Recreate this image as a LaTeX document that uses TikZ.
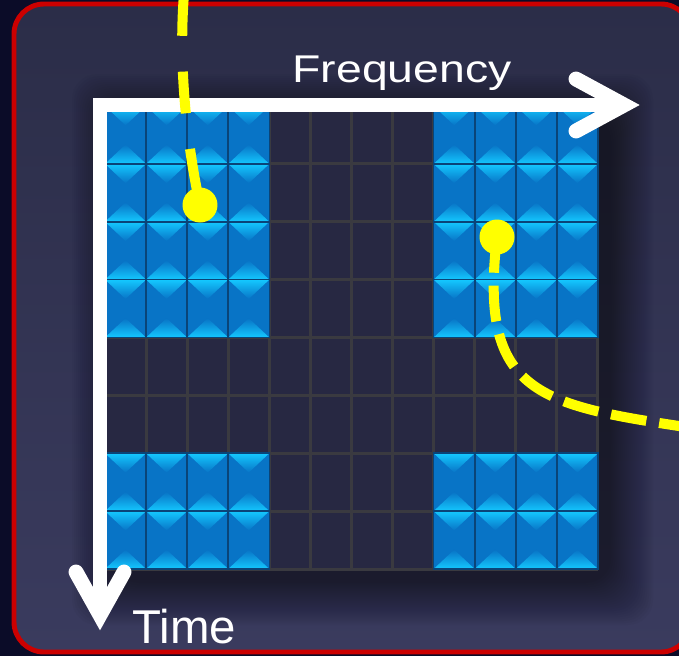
\documentclass[tikz,border=0pt]{standalone}
\usepackage{fontspec}
\setmainfont{Liberation Sans}
\newfontfamily\widefont[FakeStretch=1.2]{Liberation Sans}
\usepackage{tikz}

\definecolor{navy}{HTML}{0B0C28}
\definecolor{panelTop}{HTML}{2B2D48}
\definecolor{panelBot}{HTML}{3A3B5E}
\definecolor{frame}{HTML}{CC0000}
\definecolor{cellBase}{HTML}{0874C6}
\definecolor{cellLight}{HTML}{14C8FF}
\definecolor{cellEdge}{HTML}{0A4478}
\definecolor{voidCell}{HTML}{272842}
\definecolor{voidLine}{HTML}{3A3A40}
\definecolor{marker}{HTML}{FFFF00}

\tikzset{
  axis/.style={white,line width=8.5pt,line join=miter},
  chevron/.style={white,line width=8.5pt,line cap=round,line join=miter},
  track/.style={marker,line width=5.7pt},
  probe/.style={circle,fill=marker,inner sep=0pt,minimum size=0.7cm},
}

\begin{document}
\begin{tikzpicture}[x=0.02cm,y=-0.02cm]
  \def\cw{41.08}\def\ch{57.875}
  \fill[navy] (0,0) rectangle (679,656);
  \useasboundingbox (0,0) rectangle (679,656);

  % panel
  \shade[top color=panelTop,bottom color=panelBot,rounded corners=0.6cm] (14,4) rectangle (691,652);
  \draw[frame,line width=2.8pt,rounded corners=0.6cm] (14,4) rectangle (691,652);

  % soft shadow under the grid
  \foreach \s in {2,4,...,44}
    \fill[black,opacity=0.025,rounded corners=0.5cm] (116-\s,118-\s) rectangle (609+\s,581+\s);

  % empty resource grid
  \fill[voidCell] (105,106) rectangle (598,569);
  \foreach \i in {0,...,12}
    \draw[voidLine,line width=1.7pt] (105+\i*\cw,106) -- ++(0,8*\ch);
  \foreach \j in {0,...,8}
    \draw[voidLine,line width=1.7pt] (105,106+\j*\ch) -- ++(12*\cw,0);

  % allocated blocks: first column/first row/rows
  \foreach \c/\r/\n in {0/0/4, 8/0/4, 0/6/2, 8/6/2}
    \foreach \i in {0,...,3}
      \foreach \j in {1,...,\n} {
        \pgfmathsetmacro{\L}{105+(\c+\i)*\cw}
        \pgfmathsetmacro{\T}{106+(\r+\j-1)*\ch}
        \fill[cellBase] (\L,\T) rectangle ++(\cw,\ch);
        \shade[top color=cellLight,bottom color=cellBase] (\L,\T) -- ++(\cw,0) -- ++(-\cw/2,\ch/3) -- cycle;
        \shade[top color=cellBase,bottom color=cellLight] (\L,\T+\ch) -- ++(\cw,0) -- ++(-\cw/2,-\ch/3) -- cycle;
        \draw[cellEdge,line width=0.9pt] (\L,\T) rectangle ++(\cw,\ch);
      }

  % axes
  \coordinate (origin) at (100,105);
  \coordinate (freqEnd) at (624,105);
  \coordinate (timeEnd) at (100,615);
  \draw[axis] (freqEnd) -- (origin) -- (timeEnd);
  \draw[chevron] ([shift={(-48,-26)}]freqEnd) -- (freqEnd) -- ([shift={(-48,26)}]freqEnd);
  \draw[chevron] ([shift={(-24,-43)}]timeEnd) -- (timeEnd) -- ([shift={(24,-43)}]timeEnd);
  \node[white,anchor=base,inner sep=0pt,font=\widefont\fontsize{22pt}{26pt}\selectfont] (freqLabel) at (402,82) {Frequency};
  \node[white,anchor=base west,inner sep=0pt,font=\fontsize{27pt}{31pt}\selectfont] (timeLabel) at (132,643) {Time};

  % user tracks
  \node[probe] (probeA) at (200,205) {};
  \node[probe] (probeB) at (497,237) {};
  \coordinate (trackTop) at (184,-6);
  \coordinate (trackEnd) at (692,428);
  \draw[track,dash pattern=on 23.8pt off 20.4pt] (trackTop) .. controls (178,70) and (188,150) .. (probeA.center);
  \draw[track,dash pattern=on 20.4pt off 7.4pt] (probeB.center) .. controls (478,395) and (540,405) .. (trackEnd);
\end{tikzpicture}
\end{document}
